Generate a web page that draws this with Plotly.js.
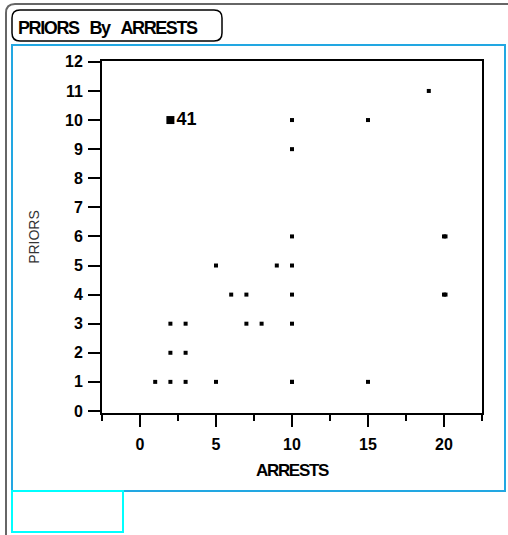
<!DOCTYPE html>
<html>
<head>
<meta charset="utf-8">
<script src="https://cdn.plot.ly/plotly-3.0.1.min.js"></script>
<style>
  html, body { margin: 0; padding: 0; background: #fff; }
  #chart { width: 508px; height: 535px; }
  .gtitle { letter-spacing: -1.4px; }
  .xtitle { letter-spacing: -1.3px; }
</style>
</head>
<body>
<div id="chart"></div>
<script>
// Data
const arrests = [1, 2, 2, 2, 3, 3, 3, 5, 5, 6, 7, 7, 8, 9, 10, 10, 10, 10, 10, 10, 10, 10, 15, 15, 19, 20, 20.1, 20, 20.1];
const priors  = [1, 1, 2, 3, 1, 2, 3, 1, 5, 4, 4, 3, 3, 5, 1, 3, 4, 5, 6, 9, 10, 1, 10, 1, 11, 6, 6, 4, 4];
const labelledArrests = [2];
const labelledPriors = [10];
const labelledText = ['41'];
const xTickVals = [0, 5, 10, 15, 20];
const yTickVals = [0, 1, 2, 3, 4, 5, 6, 7, 8, 9, 10, 11, 12];

// pixel -> paper helpers (plot area: x 102..482, y 61..413)
const L = 102, R = 482, T = 61, B = 413;
const px = v => (v - L) / (R - L);
const py = v => (B - v) / (B - T);

function roundRect(x0, y0, x1, y1, r) {
  return 'M ' + px(x0 + r) + ',' + py(y0) +
    ' L ' + px(x1 - r) + ',' + py(y0) +
    ' Q ' + px(x1) + ',' + py(y0) + ' ' + px(x1) + ',' + py(y0 + r) +
    ' L ' + px(x1) + ',' + py(y1 - r) +
    ' Q ' + px(x1) + ',' + py(y1) + ' ' + px(x1 - r) + ',' + py(y1) +
    ' L ' + px(x0 + r) + ',' + py(y1) +
    ' Q ' + px(x0) + ',' + py(y1) + ' ' + px(x0) + ',' + py(y1 - r) +
    ' L ' + px(x0) + ',' + py(y0 + r) +
    ' Q ' + px(x0) + ',' + py(y0) + ' ' + px(x0 + r) + ',' + py(y0) + ' Z';
}

const FAM = 'Liberation Sans, Arial, sans-serif';
const tickFont = {family: FAM, size: 16, color: '#000', weight: 'bold'};

const data = [
  {
    type: 'scatter', mode: 'markers', x: arrests, y: priors,
    marker: {symbol: 'square', size: 4, color: '#000', line: {width: 0}},
    hoverinfo: 'x+y', showlegend: false
  },
  {
    type: 'scatter', mode: 'markers+text', x: labelledArrests, y: labelledPriors,
    text: labelledText, textposition: 'middle right',
    textfont: {family: FAM, size: 18, color: '#000', weight: 'bold'},
    marker: {symbol: 'square', size: 8, color: '#000', line: {width: 0}},
    showlegend: false
  }
];

const layout = {
  width: 508, height: 535,
  margin: {l: L, r: 508 - R, t: T, b: 535 - B, pad: 0},
  paper_bgcolor: '#fff', plot_bgcolor: '#fff',
  showlegend: false,
  title: {
    text: 'PRIORS\u00a0\u00a0\u00a0By\u00a0\u00a0\u00a0ARRESTS',
    font: {family: FAM, size: 18, color: '#000', weight: 'bold'},
    xref: 'container', yref: 'container',
    x: 18 / 508, xanchor: 'left',
    y: 1 - 28 / 535, yanchor: 'middle'
  },
  xaxis: {
    range: [-2.5, 22.5], autorange: false,
    tickmode: 'array', tickvals: xTickVals,
    ticks: 'outside', ticklen: 12, tickwidth: 2, tickcolor: '#000',
    ticklabelstandoff: 4,
    minor: {dtick: 2.5, tick0: 0, ticks: 'outside', ticklen: 6, tickwidth: 2, tickcolor: '#000', showgrid: false},
    showline: true, linecolor: '#000', linewidth: 2, mirror: true,
    showgrid: false, zeroline: false,
    tickfont: tickFont,
    title: {text: 'ARRESTS', font: {family: FAM, size: 17, color: '#000', weight: 'bold'}, standoff: 12}
  },
  yaxis: {
    range: [-0.07, 12.03], autorange: false,
    tickmode: 'array', tickvals: yTickVals,
    ticks: 'outside', ticklen: 12, tickwidth: 2, tickcolor: '#000',
    ticklabelstandoff: 2,
    showline: true, linecolor: '#000', linewidth: 2, mirror: true,
    showgrid: false, zeroline: false,
    tickfont: tickFont,
    title: {text: 'PRIORS', font: {family: FAM, size: 14, color: '#333'}, standoff: 22}
  },
  shapes: [
    // outer frame (top and left, rounded corner)
    {type: 'path', xref: 'paper', yref: 'paper',
     path: 'M ' + px(6) + ',' + py(535) + ' L ' + px(6) + ',' + py(13) +
           ' Q ' + px(6) + ',' + py(4) + ' ' + px(15) + ',' + py(4) +
           ' L ' + px(508) + ',' + py(4),
     line: {color: '#666', width: 2}},
    // blue panel
    {type: 'rect', xref: 'paper', yref: 'paper',
     x0: px(12), x1: px(505), y0: py(45), y1: py(491),
     line: {color: '#22a7e2', width: 2}},
    // cyan box
    {type: 'rect', xref: 'paper', yref: 'paper',
     x0: px(12), x1: px(123), y0: py(491), y1: py(532),
     line: {color: '#00ffff', width: 2}},
    // title rounded box
    {type: 'path', xref: 'paper', yref: 'paper',
     path: roundRect(12, 10, 222, 41, 8),
     line: {color: '#000', width: 1.5}}
  ]
};

Plotly.newPlot('chart', data, layout, {displayModeBar: false, staticPlot: true});
</script>
</body>
</html>
